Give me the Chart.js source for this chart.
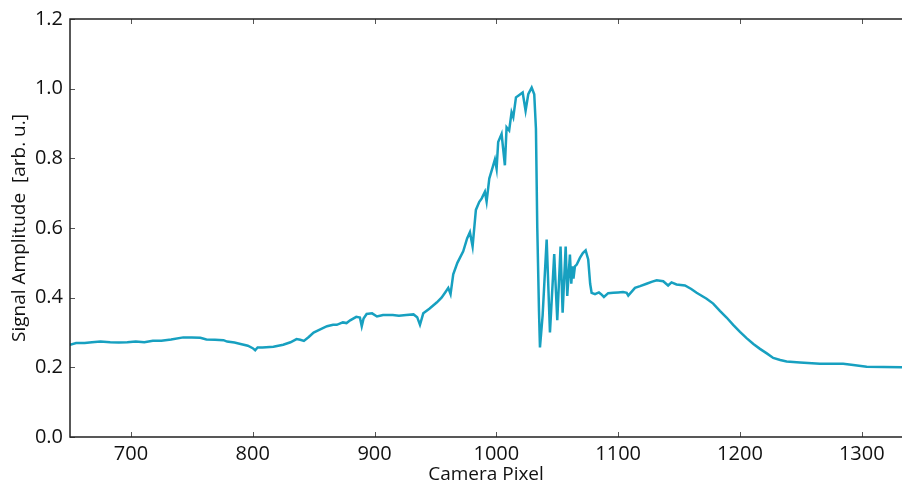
<!DOCTYPE html>
<html>
<head>
<meta charset="utf-8">
<script src="https://cdn.jsdelivr.net/npm/chart.js@4/dist/chart.umd.min.js"></script>
<style>
  html, body { margin: 0; padding: 0; background: #fff; }
  #wrap { width: 902px; height: 487px; }
</style>
</head>
<body>
<div id="wrap"><canvas id="spectrum" width="902" height="487"></canvas></div>
<script>
// camera pixel and signal amplitude
const pixel = [
  650, 655, 662, 668, 675, 683, 690, 697, 704, 711, 718, 725, 733, 743, 750, 757,
  762, 769, 776, 779, 785, 790, 796, 800, 802, 804, 808, 817, 825, 831, 836, 839,
  842, 846, 850, 855, 861, 866, 869, 874, 877, 880, 885, 888, 889.5, 891, 893.5, 898,
  902, 907, 915, 920, 926, 932, 935, 937.3, 940, 945, 951, 955, 958, 960.5, 962.4, 964.6,
  968, 972.8, 976, 978.3, 980.5, 983.2, 986, 988, 990.6, 992, 994.2, 997, 998.8, 1000.2, 1001.5, 1004.3,
  1007, 1008.4, 1010.5, 1012.5, 1013.9, 1016.1, 1018, 1021.6, 1024, 1026.2, 1029, 1031.1, 1032.5, 1033.6, 1035, 1035.8,
  1038, 1041.3, 1044, 1047.5, 1050, 1052.7, 1054.4, 1056.9, 1058.2, 1060.4, 1061.5, 1062.5, 1063.3, 1064.5, 1066, 1068.6,
  1071, 1073.3, 1075.4, 1077, 1078.2, 1081, 1084.2, 1086, 1088.3, 1091.8, 1096, 1100, 1104, 1107, 1108.3, 1113.8,
  1118, 1123.3, 1128, 1131.6, 1137, 1141, 1143.8, 1147.9, 1154.8, 1160, 1164.4, 1172.6, 1178, 1183.5, 1189, 1194.4,
  1200, 1205.4, 1211, 1216.4, 1222, 1227.3, 1233, 1238.3, 1249.2, 1265.6, 1284.7, 1293, 1304, 1318, 1333
];
const amplitude = [
  0.265, 0.270, 0.270, 0.272, 0.274, 0.272, 0.271, 0.272, 0.274, 0.272, 0.276, 0.276, 0.280, 0.286, 0.286, 0.285,
  0.280, 0.279, 0.278, 0.274, 0.271, 0.267, 0.262, 0.255, 0.249, 0.257, 0.257, 0.259, 0.265, 0.272, 0.281, 0.279,
  0.276, 0.287, 0.300, 0.308, 0.318, 0.322, 0.322, 0.329, 0.327, 0.335, 0.345, 0.343, 0.318, 0.340, 0.353, 0.355,
  0.346, 0.350, 0.350, 0.348, 0.350, 0.352, 0.344, 0.322, 0.355, 0.368, 0.386, 0.400, 0.415, 0.428, 0.410, 0.467,
  0.500, 0.533, 0.570, 0.588, 0.547, 0.652, 0.675, 0.685, 0.704, 0.676, 0.742, 0.775, 0.797, 0.770, 0.847, 0.870,
  0.780, 0.889, 0.880, 0.932, 0.918, 0.975, 0.980, 0.989, 0.937, 0.984, 1.003, 0.984, 0.885, 0.600, 0.362, 0.257,
  0.350, 0.567, 0.300, 0.525, 0.335, 0.547, 0.357, 0.547, 0.405, 0.524, 0.440, 0.490, 0.455, 0.490, 0.495, 0.514,
  0.528, 0.536, 0.510, 0.440, 0.414, 0.410, 0.415, 0.410, 0.402, 0.413, 0.414, 0.415, 0.416, 0.414, 0.406, 0.428,
  0.433, 0.440, 0.446, 0.450, 0.447, 0.435, 0.444, 0.438, 0.435, 0.425, 0.414, 0.397, 0.383, 0.362, 0.343, 0.322,
  0.302, 0.284, 0.267, 0.253, 0.240, 0.227, 0.221, 0.217, 0.214, 0.210, 0.210, 0.207, 0.202, 0.201, 0.200
];
const xTicks = [700, 800, 900, 1000, 1100, 1200, 1300];
const yTicks = [0.0, 0.2, 0.4, 0.6, 0.8, 1.0, 1.2];

const points = pixel.map((p, i) => ({ x: p, y: amplitude[i] }));

// matplotlib-like frame: left, top, bottom lines with inward ticks
const framePlugin = {
  id: 'frame',
  afterDatasetsDraw(chart) {
    const { ctx, chartArea: a, scales } = chart;
    ctx.save();
    ctx.strokeStyle = '#555';
    ctx.lineWidth = 1;
    ctx.beginPath();
    xTicks.forEach(v => {
      const x = Math.round(scales.x.getPixelForValue(v)) + 0.5;
      ctx.moveTo(x, a.bottom); ctx.lineTo(x, a.bottom - 5);
      ctx.moveTo(x, a.top); ctx.lineTo(x, a.top + 5);
    });
    yTicks.forEach(v => {
      const y = Math.round(scales.y.getPixelForValue(v)) + 0.5;
      ctx.moveTo(a.left, y); ctx.lineTo(a.left + 5, y);
    });
    ctx.stroke();
    ctx.strokeStyle = '#222';
    ctx.lineWidth = 1.5;
    ctx.beginPath();
    ctx.moveTo(a.right, a.top);
    ctx.lineTo(a.left, a.top);
    ctx.lineTo(a.left, a.bottom);
    ctx.lineTo(a.right, a.bottom);
    ctx.stroke();
    ctx.restore();
  }
};

new Chart(document.getElementById('spectrum'), {
  type: 'line',
  data: {
    datasets: [{
      data: points,
      borderColor: '#17a0c0',
      borderWidth: 2.5,
      pointRadius: 0,
      tension: 0,
      fill: false
    }]
  },
  options: {
    responsive: false,
    animation: false,
    layout: { padding: { top: 16, right: 0, left: 0, bottom: 0 } },
    plugins: { legend: { display: false }, tooltip: { enabled: false } },
    scales: {
      x: {
        type: 'linear',
        min: 650,
        max: 1333,
        afterBuildTicks: s => { s.ticks = xTicks.map(v => ({ value: v })); },
        afterFit: s => { s.height = 50; },
        grid: { display: false, drawTicks: false },
        border: { display: false },
        ticks: {
          color: '#111',
          padding: 5,
          font: { family: 'Open Sans', size: 20 },
          callback: v => String(v)
        },
        title: {
          display: true,
          text: 'Camera Pixel',
          color: '#111',
          padding: { top: 0, bottom: 1 },
          font: { family: 'Open Sans', size: 19 }
        }
      },
      y: {
        min: 0,
        max: 1.2,
        afterBuildTicks: s => { s.ticks = yTicks.map(v => ({ value: v })); },
        afterFit: s => { s.width = 70; },
        grid: { display: false, drawTicks: false },
        border: { display: false },
        ticks: {
          color: '#111',
          padding: 7,
          font: { family: 'Open Sans', size: 20 },
          callback: v => v.toFixed(1)
        },
        title: {
          display: true,
          text: 'Signal Amplitude  [arb. u.]',
          color: '#111',
          padding: { top: 8, bottom: 0 },
          font: { family: 'Open Sans', size: 19 }
        }
      }
    }
  },
  plugins: [framePlugin]
});
</script>
</body>
</html>
